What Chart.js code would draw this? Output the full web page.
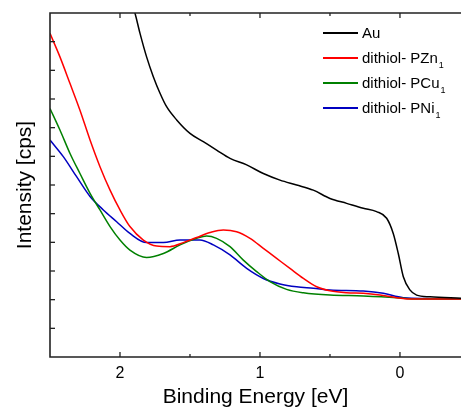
<!DOCTYPE html>
<html><head><meta charset="utf-8">
<script src="https://cdn.jsdelivr.net/npm/chart.js@4/dist/chart.umd.min.js"></script>
<style>html,body{margin:0;padding:0;background:#fff}#wrap{width:461px;height:410px;position:relative}</style>
</head><body><div id="wrap"><canvas id="c" width="461" height="410"></canvas></div>
<script>
// Binding energy (eV) and intensity (arb., 0..12)
const auE = [2.05,1.893,1.857,1.81,1.762,1.714,1.667,1.595,1.5,1.405,1.31,1.214,1.095,0.976,0.857,0.738,0.619,0.5,0.381,0.262,0.167,0.095,0.048,0.012,-0.024,-0.071,-0.119,-0.214,-0.436];
const auI = [14.5,12.0,11.29,10.47,9.78,9.2,8.73,8.27,7.8,7.51,7.22,6.93,6.70,6.40,6.17,6.0,5.82,5.53,5.36,5.19,5.07,4.84,4.31,3.61,2.80,2.34,2.16,2.10,2.05];
const znE = [2.5,2.429,2.357,2.286,2.214,2.143,2.071,2.0,1.929,1.833,1.738,1.643,1.548,1.452,1.357,1.262,1.167,1.071,0.976,0.881,0.786,0.69,0.595,0.5,0.381,0.262,0.143,0.024,-0.095,-0.436];
const znI = [11.29,10.47,9.54,8.61,7.57,6.64,5.82,5.13,4.55,4.08,3.87,3.85,3.99,4.17,4.34,4.43,4.37,4.14,3.79,3.44,3.09,2.74,2.45,2.31,2.24,2.22,2.16,2.07,2.02,2.02];
const cuE = [2.5,2.429,2.357,2.286,2.214,2.143,2.071,2.0,1.929,1.81,1.69,1.571,1.452,1.381,1.31,1.214,1.119,1.024,0.929,0.81,0.69,0.5,0.262,0.024,-0.095,-0.436];
const cuI = [8.67,7.92,7.10,6.40,5.71,5.13,4.55,4.08,3.73,3.47,3.61,3.91,4.14,4.22,4.14,3.85,3.38,2.98,2.63,2.36,2.24,2.16,2.13,2.07,2.02,2.02];
const niE = [2.5,2.405,2.31,2.214,2.119,2.024,1.929,1.81,1.69,1.571,1.429,1.333,1.214,1.095,0.976,0.857,0.738,0.619,0.5,0.262,0.119,-0.024,-0.436];
const niI = [7.57,6.99,6.29,5.60,5.13,4.72,4.31,3.99,3.99,4.08,4.08,3.91,3.56,3.09,2.74,2.55,2.45,2.40,2.34,2.30,2.22,2.07,2.02];
const seriesLabels = ['Au','dithiol- PZn','dithiol- PCu','dithiol- PNi'];
const seriesSubs = ['','1','1','1'];
const seriesColors = ['#000000','#ff0000','#008000','#0000c0'];
const xTicks = [2,1,0];
const xMin = -0.436, xMax = 2.5, yMin = 0, yMax = 12;

const pts = (e,i)=>e.map((v,k)=>({x:v,y:i[k]}));
const allData = [pts(auE,auI),pts(znE,znI),pts(cuE,cuI),pts(niE,niI)];

const frame = {
  id:'frame',
  afterDraw(chart){
    const {ctx, chartArea:a, scales:{x,y}} = chart;
    ctx.save();
    ctx.strokeStyle='#222'; ctx.lineWidth=1.6;
    ctx.beginPath();
    ctx.moveTo(a.right+2,a.top); ctx.lineTo(a.left,a.top); ctx.lineTo(a.left,a.bottom); ctx.lineTo(a.right+2,a.bottom);
    ctx.stroke();
    // x ticks (inside), major every 1, minor every 0.5
    ctx.lineWidth=1.3;
    for(let v=-0.5; v<=2.5; v+=0.5){
      const px=x.getPixelForValue(v);
      if(px<=a.left+1||px>=a.right) continue;
      const len = Math.abs(v-Math.round(v))<1e-6 ? 5 : 3;
      ctx.beginPath(); ctx.moveTo(px,a.bottom); ctx.lineTo(px,a.bottom-len); ctx.stroke();
      ctx.beginPath(); ctx.moveTo(px,a.top); ctx.lineTo(px,a.top+len); ctx.stroke();
    }
    for(let v=1; v<yMax; v+=1){
      const py=y.getPixelForValue(v);
      ctx.beginPath(); ctx.moveTo(a.left,py); ctx.lineTo(a.left+5,py); ctx.stroke();
    }
    // legend
    const lx0=323, lx1=358, tx=362; let ly=33;
    chart.data.datasets.forEach((ds,k)=>{
      ctx.strokeStyle=ds.borderColor; ctx.lineWidth=2;
      ctx.beginPath(); ctx.moveTo(lx0,ly); ctx.lineTo(lx1,ly); ctx.stroke();
      ctx.fillStyle='#000'; ctx.textBaseline='middle'; ctx.textAlign='left';
      ctx.font='15px "Liberation Sans", Arial, sans-serif';
      ctx.fillText(seriesLabels[k],tx,ly+1);
      const w=ctx.measureText(seriesLabels[k]).width;
      if(seriesSubs[k]){ ctx.font='9px "Liberation Sans", Arial, sans-serif'; ctx.fillText(seriesSubs[k],tx+w+1,ly+8); }
      ly+=25;
    });
    ctx.restore();
  }
};

new Chart(document.getElementById('c'),{
  type:'line',
  data:{datasets: allData.map((d,k)=>({label:seriesLabels[k]+seriesSubs[k], data:d, borderColor:seriesColors[k], borderWidth:1.5, pointRadius:0, tension:0.4, cubicInterpolationMode:'monotone', fill:false}))},
  options:{
    responsive:false, animation:false, devicePixelRatio:1,
    layout:{padding:{top:13,right:0,left:0,bottom:0}},
    plugins:{legend:{display:false},tooltip:{enabled:false}},
    scales:{
      x:{type:'linear', reverse:true, min:xMin, max:xMax, border:{display:false}, grid:{display:false, drawTicks:false},
         afterBuildTicks(s){ s.ticks = xTicks.map(v=>({value:v})); },
         afterFit(s){ s.height=53; },
         ticks:{padding:7, color:'#000', font:{size:16, family:'"Liberation Sans", Arial, sans-serif'}, maxRotation:0, autoSkip:false},
         title:{display:true, text:'Binding Energy [eV]', color:'#000', font:{size:21, family:'"Liberation Sans", Arial, sans-serif'}, padding:{top:2,bottom:0}}},
      y:{type:'linear', min:yMin, max:yMax, border:{display:false}, grid:{display:false, drawTicks:false},
         ticks:{display:false},
         afterFit(s){ s.width=50; },
         title:{display:true, text:'Intensity [cps]', color:'#000', font:{size:21, family:'"Liberation Sans", Arial, sans-serif'}, padding:{top:13,bottom:0}}}
    }
  },
  plugins:[frame]
});
</script></body></html>
